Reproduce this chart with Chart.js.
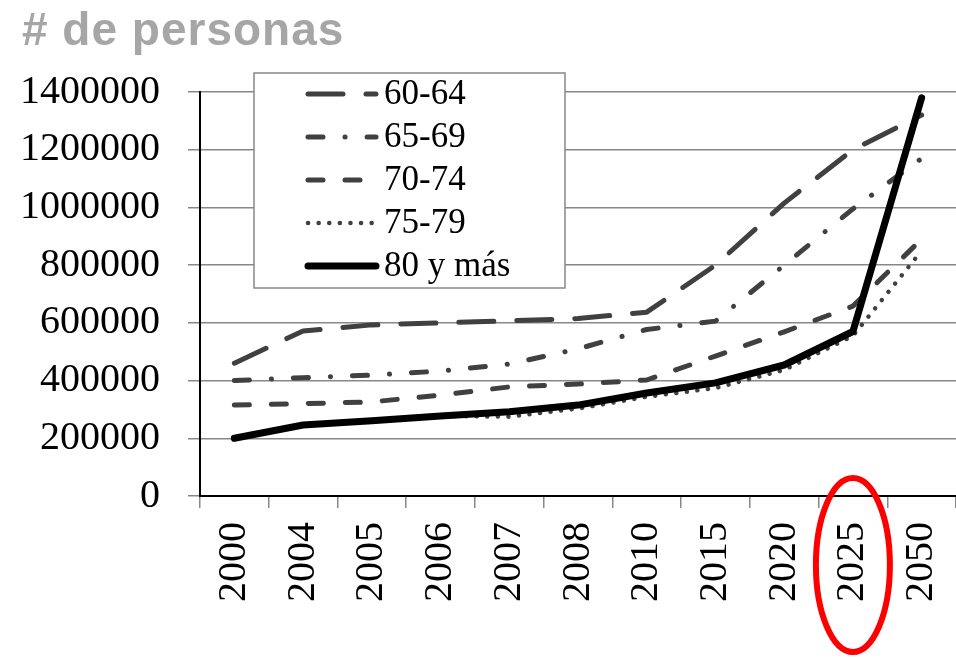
<!DOCTYPE html>
<html>
<head>
<meta charset="utf-8">
<script src="https://cdn.jsdelivr.net/npm/chart.js"></script>
<style>
  body { margin: 0; background: #fff; }
  #wrap { width: 956px; height: 660px; }
</style>
</head>
<body>
<div id="wrap"><canvas id="chartLine" width="956" height="660"></canvas></div>
<script>
const years = ["2000", "2004", "2005", "2006", "2007", "2008", "2010", "2015", "2020", "2025", "2050"];
const yTicks = [0, 200000, 400000, 600000, 800000, 1000000, 1200000, 1400000];

const g60_64 = [460000, 572000, 593000, 600000, 607000, 615000, 637000, 800000, 1015000, 1200000, 1320000];
const g65_69 = [400000, 410000, 419000, 433000, 457000, 510000, 577000, 606000, 800000, 995000, 1170000];
const g70_74 = [315000, 320000, 326000, 350000, 378000, 388000, 402000, 485000, 569000, 658000, 890000];
const g75_79 = [200000, 246000, 261000, 277000, 275000, 303000, 344000, 374000, 437000, 555000, 850000];
const g80 = [200000, 246000, 261000, 277000, 292000, 315000, 357000, 392000, 454000, 570000, 1380000];

const titleText = "# de personas";
const markedYear = "2025";

const grey = "#404040";

// title, legend box inside the plot and the red ring round one year
const overlay = {
  id: "overlay",
  afterDraw(chart) {
    const ctx = chart.ctx;
    ctx.save();
    ctx.font = 'bold 46px "Liberation Sans", Arial, sans-serif';
    ctx.fillStyle = "#a6a6a6";
    ctx.letterSpacing = "1px";
    ctx.textBaseline = "alphabetic";
    ctx.fillText(titleText, 22, 45);
    ctx.restore();

    // legend
    ctx.save();
    ctx.fillStyle = "#fff";
    ctx.fillRect(254, 73, 311, 215);
    ctx.strokeStyle = "#888";
    ctx.lineWidth = 1.5;
    ctx.strokeRect(254, 73, 311, 215);
    ctx.font = '35px "Liberation Serif", "Times New Roman", serif';
    ctx.textBaseline = "middle";
    chart.data.datasets.forEach((ds, i) => {
      const y = 94 + i * 43;
      ctx.beginPath();
      ctx.strokeStyle = ds.borderColor;
      ctx.lineWidth = ds.borderWidth;
      ctx.lineCap = ds.borderCapStyle;
      ctx.setLineDash(ds.borderDash || []);
      ctx.moveTo(308, y);
      ctx.lineTo(376, y);
      ctx.stroke();
      ctx.setLineDash([]);
      ctx.fillStyle = "#000";
      ctx.fillText(ds.label, 384, y + 1);
    });
    ctx.restore();

    // red ellipse
    const x = chart.scales.x.getPixelForValue(years.indexOf(markedYear));
    ctx.save();
    ctx.beginPath();
    ctx.strokeStyle = "#ff0000";
    ctx.lineWidth = 6;
    ctx.ellipse(x, 565, 37, 87, 0, 0, Math.PI * 2);
    ctx.stroke();
    ctx.restore();
  }
};

const data = {
  labels: years,
  datasets: [
    { label: "60-64", data: g60_64, borderColor: grey, borderWidth: 5, borderDash: [35, 23], borderCapStyle: "round", order: 1 },
    { label: "65-69", data: g65_69, borderColor: grey, borderWidth: 5, borderDash: [15, 22, 0.1, 22], borderCapStyle: "round", order: 2 },
    { label: "70-74", data: g70_74, borderColor: grey, borderWidth: 5, borderDash: [15, 22], borderCapStyle: "round", order: 3 },
    { label: "75-79", data: g75_79, borderColor: grey, borderWidth: 4.5, borderDash: [0.1, 10.5], borderCapStyle: "round", order: 4 },
    { label: "80 y más", data: g80, borderColor: "#000", borderWidth: 7, borderDash: [], borderCapStyle: "round", order: 0 }
  ]
};

const serif = '"Liberation Serif", "Times New Roman", serif';

const config = {
  type: "line",
  data: data,
  options: {
    responsive: false,
    animation: false,
    layout: { padding: { top: 92, right: 0, left: 0, bottom: 0 } },
    elements: {
      point: { radius: 0 },
      line: { tension: 0, fill: false, borderJoinStyle: "round" }
    },
    plugins: {
      legend: { display: false },
      title: { display: false },
      tooltip: { enabled: false }
    },
    scales: {
      x: {
        offset: true,
        grid: { offset: true, drawOnChartArea: false, drawTicks: true, tickLength: 12, color: "#888", lineWidth: 1.5 },
        border: { color: "#000", width: 2 },
        ticks: {
          autoSkip: false, maxRotation: 90, minRotation: 90, padding: 14,
          color: "#000", font: { family: serif, size: 40 }
        },
        afterFit(scale) {
          scale.height = 164;
          scale.paddingLeft = 0;
          scale.paddingRight = 0;
        }
      },
      y: {
        min: 0,
        max: 1400000,
        afterBuildTicks(scale) { scale.ticks = yTicks.map(v => ({ value: v })); },
        grid: { color: "#888", lineWidth: 1.5, tickLength: 12 },
        border: { color: "#000", width: 2 },
        ticks: {
          padding: 28, color: "#000", font: { family: serif, size: 40 },
          callback: v => String(v)
        },
        afterFit(scale) { scale.width = 200; }
      }
    }
  },
  plugins: [overlay]
};

new Chart(document.getElementById("chartLine").getContext("2d"), config);
</script>
</body>
</html>
